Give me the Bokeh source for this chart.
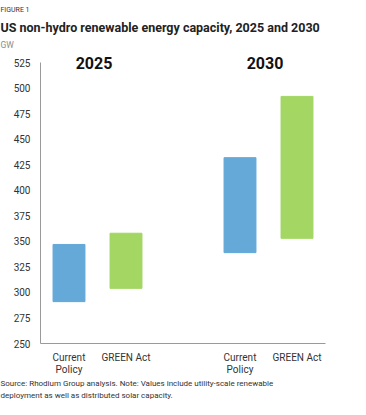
from bokeh.plotting import figure
from bokeh.models import Range1d, Title, ColumnDataSource, FixedTicker
from bokeh.core.properties import value
from bokeh.embed import file_html
from bokeh.resources import INLINE

years = ["2025", "2030"]
scenarios = ["Current\nPolicy", "GREEN Act"]
low_2025 = [291, 304]
high_2025 = [347, 358]
low_2030 = [339, 353]
high_2030 = [432, 492]
colors = ["#64A9D8", "#A3D663"]
y_ticks = list(range(250, 526, 25))
kicker = "FIGURE 1"
title = "US non-hydro renewable energy capacity, 2025 and 2030"
unit = "GW"
note_lines = [
    "Source:  Rhodium  Group  analysis.  Note:  Values  include  utility-scale  renewable",
    "deployment as well as distributed solar capacity.",
]

# slot positions: each year group takes len(scenarios) slots plus one empty slot between groups
step = len(scenarios) + 1
xpos = [g * step + s for g in range(len(years)) for s in range(len(scenarios))]
year_x = [g * step + (len(scenarios) - 1) / 2 for g in range(len(years))]
src = ColumnDataSource(dict(
    x=xpos,
    low=low_2025 + low_2030,
    high=high_2025 + high_2030,
    color=colors * len(years),
))

FONT = "Roboto"
LEFT = 40

p = figure(
    x_range=Range1d(xpos[0] - 0.5, xpos[-1] + 0.5),
    y_range=Range1d(y_ticks[0], y_ticks[-1] + 10),
    width=352, height=399,
    output_backend="svg", toolbar_location=None,
    min_border_left=LEFT, min_border_right=27, min_border_top=0, min_border_bottom=0,
)
p.vbar(x="x", bottom="low", top="high", width=0.56, color="color", source=src)

p.text(x=year_x, y=[y_ticks[-1]] * len(years), text=years, text_font=value(FONT),
       text_font_style="bold", text_font_size="16px", text_align="center",
       text_baseline="middle", x_offset=-3.5, text_color="#111111")

p.outline_line_color = None
p.xgrid.grid_line_color = None
p.ygrid.grid_line_color = None

p.yaxis.ticker = FixedTicker(ticks=y_ticks)
p.yaxis.bounds = (y_ticks[0], y_ticks[-1])
p.xaxis.ticker = FixedTicker(ticks=xpos)
p.xaxis.major_label_overrides = {x: scenarios[i % len(scenarios)] for i, x in enumerate(xpos)}
for ax in (p.xaxis[0], p.yaxis[0]):
    ax.axis_line_color = "#9a9a9a"
    ax.major_tick_line_color = None
    ax.minor_tick_line_color = None
    ax.major_tick_out = 0
    ax.major_tick_in = 0
    ax.minor_tick_out = 0
    ax.minor_tick_in = 0
    ax.axis_label_standoff = 0
    ax.major_label_text_font = FONT
    ax.major_label_text_font_size = "10px"
    ax.major_label_text_color = "#333333"
p.yaxis.major_label_standoff = 10
p.xaxis.major_label_standoff = 8
p.xaxis.major_label_text_line_height = 1.1

def above(text, size, color, style, standoff):
    t = Title(text=text, text_font=FONT, text_font_size=size, text_color=color,
              text_font_style=style, align="left", offset=-LEFT, standoff=standoff)
    p.add_layout(t, "above")

above(unit, "8.5px", "#8c8c8c", "normal", 6)
above(title, "12.5px", "#222222", "bold", 0)
above(kicker, "7px", "#333333", "normal", 7)

note = Title(
    text="\n".join(note_lines),
    text_font=FONT, text_font_size="8px", text_color="#333333", text_font_style="normal",
    text_line_height=1.25, align="left", offset=-LEFT, standoff=0)
p.add_layout(note, "below")

open("out.html", "w").write(file_html(p, INLINE))
